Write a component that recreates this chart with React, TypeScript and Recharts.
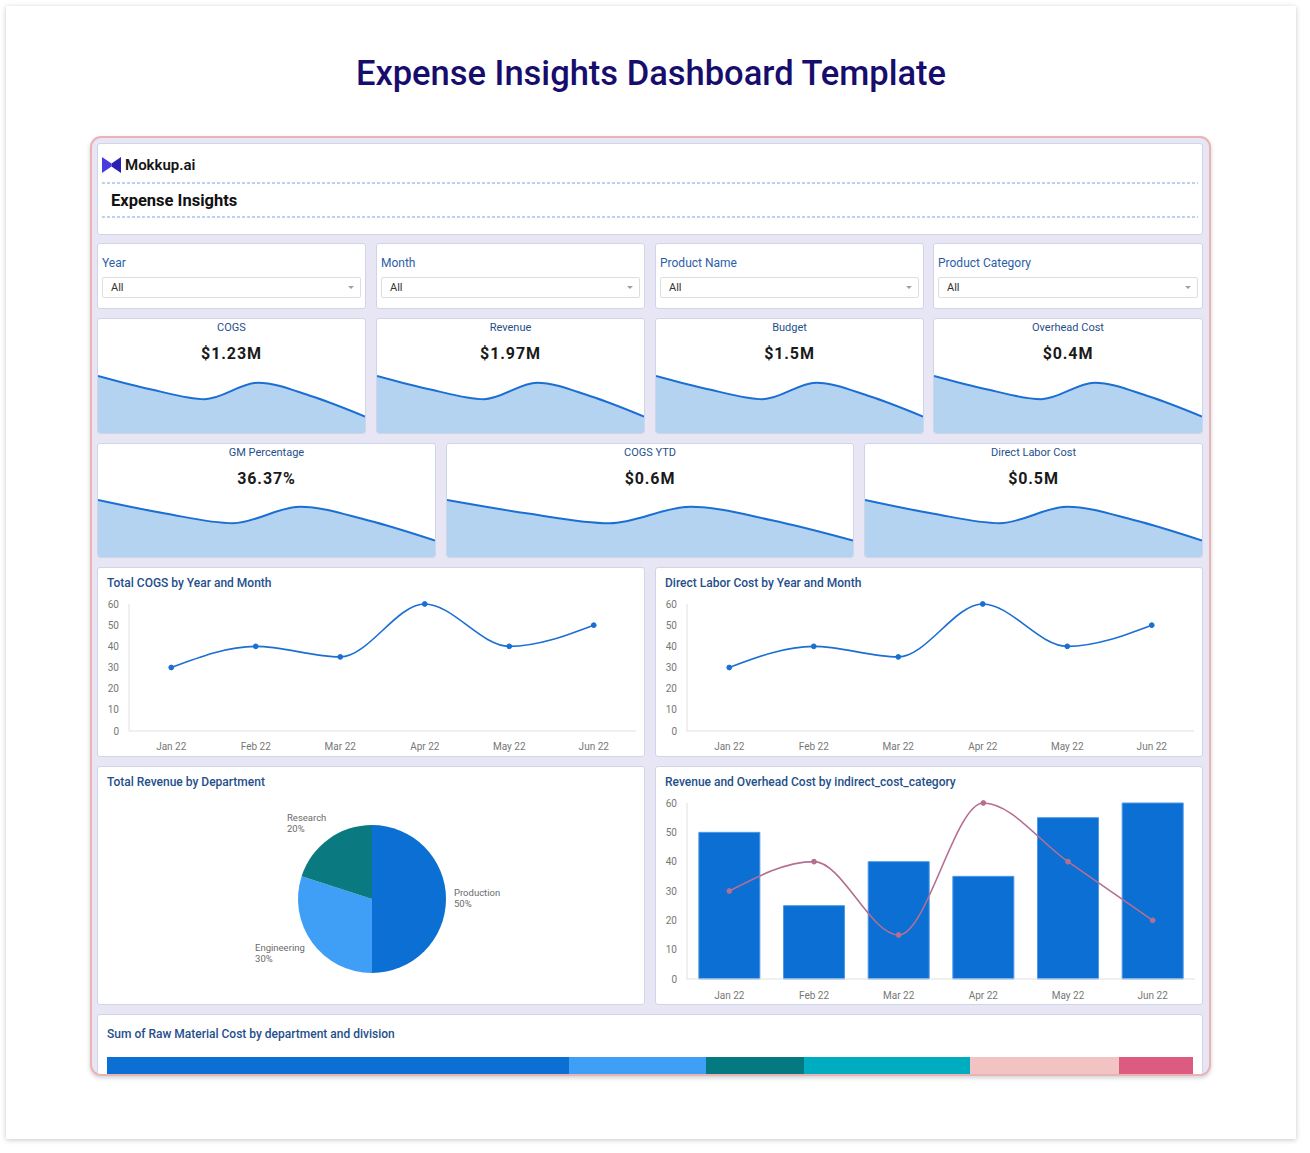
import React from 'react';
import {
  AreaChart, Area, LineChart, Line, XAxis, YAxis, PieChart, Pie, Cell,
  ComposedChart, Bar, BarChart,
} from 'recharts';

// ---- data ----
const months = ['Jan 22', 'Feb 22', 'Mar 22', 'Apr 22', 'May 22', 'Jun 22'];
const cogsByMonth = [30, 40, 35, 60, 40, 50];
const laborByMonth = [30, 40, 35, 60, 40, 50];
const revenueByMonth = [50, 25, 40, 35, 55, 60];
const overheadByMonth = [30, 40, 15, 60, 40, 20];
const yTicks = [0, 10, 20, 30, 40, 50, 60];

const departments = ['Production', 'Engineering', 'Research'];
const departmentShare = [50, 30, 20];
const departmentColors = ['#0b6fd3', '#3f9ef5', '#0a7a80'];

const sparkTrend = [59, 45, 35, 52, 38, 17];

const kpiRow1Labels = ['COGS', 'Revenue', 'Budget', 'Overhead Cost'];
const kpiRow1Values = ['$1.23M', '$1.97M', '$1.5M', '$0.4M'];
const kpiRow2Labels = ['GM Percentage', 'COGS YTD', 'Direct Labor Cost'];
const kpiRow2Values = ['36.37%', '$0.6M', '$0.5M'];

const filterLabels = ['Year', 'Month', 'Product Name', 'Product Category'];
const filterValues = ['All', 'All', 'All', 'All'];

const rawSegments = ['Production · North', 'Production · South', 'Research · North', 'Research · South', 'Engineering · North', 'Engineering · South'];
const rawValues = [462, 137, 98, 166, 149, 74];
const rawColors = ['#0b6fd3', '#3f9ef5', '#047a80', '#00adc0', '#f2c3c3', '#dd5b81'];

// ---- derived tables ----
const monthlyCogs = months.map((m, i) => ({ month: m, value: cogsByMonth[i] }));
const monthlyLabor = months.map((m, i) => ({ month: m, value: laborByMonth[i] }));
const monthlyRevOverhead = months.map((m, i) => ({ month: m, revenue: revenueByMonth[i], overhead: overheadByMonth[i] }));
const deptData = departments.map((d, i) => ({ name: d, value: departmentShare[i] }));
const sparkData = sparkTrend.map((v, i) => ({ i, v }));
const rawRow = [rawSegments.reduce((acc: any, k, i) => { acc[k] = rawValues[i]; return acc; }, { row: 'all' })];

const FONT = 'Roboto, "Noto Sans", Arial, sans-serif';
const BLUE = '#1b6fd3';
const TITLE_BLUE = '#1f4f8c';

const cardStyle: React.CSSProperties = {
  position: 'absolute', background: '#fff', border: '1px solid #cdd6e6',
  borderRadius: 3, boxSizing: 'border-box', overflow: 'hidden',
};

const Card = ({ x, y, w, h, children }: any) => (
  <div style={{ ...cardStyle, left: x, top: y, width: w, height: h }}>{children}</div>
);

const Sparkline = ({ w }: { w: number }) => (
  <div style={{ position: 'absolute', left: 0, bottom: 0 }}>
    <AreaChart width={w} height={58} data={sparkData} margin={{ top: 0, right: 0, bottom: 0, left: 0 }}>
      <XAxis dataKey="i" hide />
      <YAxis hide domain={[0, 60]} />
      <Area type="monotone" dataKey="v" stroke={BLUE} strokeWidth={2} fill="#b3d3f1" fillOpacity={1} isAnimationActive={false} />
    </AreaChart>
  </div>
);

const Kpi = ({ x, y, w, h, label, value }: any) => (
  <Card x={x - 90} y={y - 136} w={w} h={h}>
    <div style={{ position: 'absolute', top: 2, width: '100%', textAlign: 'center', fontSize: 11, color: TITLE_BLUE }}>{label}</div>
    <div style={{ position: 'absolute', top: 25, width: '100%', textAlign: 'center', fontSize: 16, fontWeight: 700, color: '#1a1a1a', letterSpacing: 0.9 }}>{value}</div>
    <Sparkline w={w - 2} />
  </Card>
);

const Filter = ({ x, w, label, value }: any) => (
  <Card x={x - 90} y={243 - 136} w={w} h={66}>
    <div style={{ position: 'absolute', left: 4, top: 12, fontSize: 12, color: '#2c5ea8' }}>{label}</div>
    <div style={{ position: 'absolute', left: 4, top: 33, width: w - 10, height: 21, border: '1px solid #dedede', borderRadius: 2, boxSizing: 'border-box' }}>
      <span style={{ position: 'absolute', left: 8, top: 3, fontSize: 11, color: '#333' }}>{value}</span>
      <svg style={{ position: 'absolute', right: 6, top: 8 }} width={6} height={4}><polygon points="0,0 6,0 3,3" fill="#a0a0a0" /></svg>
    </div>
  </Card>
);

const DashedRule = ({ top }: { top: number }) => (
  <svg style={{ position: 'absolute', left: 4, top }} width={1096} height={2}>
    <line x1={0} y1={1} x2={1096} y2={1} stroke="#6fa8e8" strokeWidth={1} strokeDasharray="3 2" />
  </svg>
);

const axisTick = { fontSize: 10, fill: '#777', fontFamily: FONT };

const MonthLine = ({ data }: any) => (
  <LineChart width={548} height={161} data={data} margin={{ top: 9, right: 8, bottom: 0, left: 0 }}>
    <XAxis dataKey="month" scale="band" height={25} tick={axisTick} tickLine={false} axisLine={{ stroke: '#e0e0e0' }} tickMargin={6} interval={0} />
    <YAxis width={33} domain={[0, 60]} ticks={yTicks} tick={axisTick} tickLine={false} axisLine={{ stroke: '#e0e0e0' }} tickMargin={4} />
    <Line type="monotone" dataKey="value" stroke={BLUE} strokeWidth={1.6}
      dot={{ r: 2.4, fill: BLUE, stroke: BLUE, strokeWidth: 1 }} isAnimationActive={false} />
  </LineChart>
);

const RAD = Math.PI / 180;
const PieLabel = (props: any) => {
  const { cx, cy, midAngle, outerRadius, name, value } = props;
  const r = outerRadius + 8;
  const c = Math.cos(-midAngle * RAD);
  const s = Math.sin(-midAngle * RAD);
  const px = cx + r * c;
  const py = cy + r * s;
  const w = Math.max(String(name).length, 3) * 4.6;
  const h = 22;
  const left = c < -0.1 ? px - w : c > 0.1 ? px : px - w / 2;
  const top = py - h / 2 + (s * h) / 2;
  return (
    <g>
      <text x={left} y={top + 8} fontSize={9.5} fill="#6b6b6b" fontFamily={FONT}>{name}</text>
      <text x={left} y={top + 19} fontSize={9.5} fill="#6b6b6b" fontFamily={FONT}>{`${value}%`}</text>
    </g>
  );
};

const ChartTitle = ({ children, top = 8 }: any) => (
  <div style={{ position: 'absolute', left: 9, top, fontSize: 12, fontWeight: 500, color: TITLE_BLUE }}>{children}</div>
);

export default function App() {
  return (
    <div style={{ position: 'absolute', left: 0, top: 0, width: 1310, height: 1153, background: '#fff', fontFamily: FONT, overflow: 'hidden' }}>
      <div style={{ position: 'absolute', left: 6, top: 6, width: 1290, height: 1133, background: '#fff', boxShadow: '0 1px 5px rgba(0,0,0,0.22)' }} />
      <div style={{ position: 'absolute', left: 0, top: 53, width: 1302, textAlign: 'center', fontSize: 34.5, fontWeight: 500, color: '#170d6c', letterSpacing: 0 }}>
        Expense Insights Dashboard Template
      </div>

      {/* dashboard frame */}
      <div style={{
        position: 'absolute', left: 90, top: 136, width: 1121, height: 940, boxSizing: 'border-box',
        border: '2px solid #e8b4b6', borderRadius: 11, background: '#e8e6f4', overflow: 'hidden',
        boxShadow: '0 2px 4px rgba(0,0,0,0.18)',
      }}>
        <div style={{ position: 'absolute', left: -2, top: -2, width: 1121, height: 940 }}>
          {/* header */}
          <Card x={7} y={7} w={1106} h={92}>
            <svg style={{ position: 'absolute', left: 4, top: 13 }} width={19} height={16}>
              <polygon points="0,0 9.5,6.5 9.5,9.5 0,16" fill="#4a3be0" />
              <polygon points="19,0 9.5,6.5 9.5,9.5 19,16" fill="#2b1fb4" />
            </svg>
            <div style={{ position: 'absolute', left: 27, top: 12, fontSize: 15, fontWeight: 600, color: '#141414' }}>Mokkup.ai</div>
            <DashedRule top={38} />
            <div style={{ position: 'absolute', left: 13, top: 47, fontSize: 16.5, fontWeight: 700, color: '#111' }}>Expense Insights</div>
            <DashedRule top={72} />
          </Card>

          {/* filters */}
          {[97, 376, 655, 933].map((x, i) => (
            <Filter key={filterLabels[i]} x={x} w={i === 3 ? 270 : 269} label={filterLabels[i]} value={filterValues[i]} />
          ))}

          {/* KPI row 1 */}
          {[97, 376, 655, 933].map((x, i) => (
            <Kpi key={kpiRow1Labels[i]} x={x} y={318} w={i === 3 ? 270 : 269} h={116} label={kpiRow1Labels[i]} value={kpiRow1Values[i]} />
          ))}

          {/* KPI row 2 */}
          {[[97, 339], [446, 408], [864, 339]].map(([x, w], i) => (
            <Kpi key={kpiRow2Labels[i]} x={x} y={443} w={w} h={115} label={kpiRow2Labels[i]} value={kpiRow2Values[i]} />
          ))}

          {/* monthly line charts */}
          <Card x={7} y={431} w={548} h={190}>
            <ChartTitle>Total COGS by Year and Month</ChartTitle>
            <div style={{ position: 'absolute', left: -2, top: 27 }}><MonthLine data={monthlyCogs} /></div>
          </Card>
          <Card x={565} y={431} w={548} h={190}>
            <ChartTitle>Direct Labor Cost by Year and Month</ChartTitle>
            <div style={{ position: 'absolute', left: -2, top: 27 }}><MonthLine data={monthlyLabor} /></div>
          </Card>

          {/* department pie */}
          <Card x={7} y={630} w={548} h={239}>
            <ChartTitle>Total Revenue by Department</ChartTitle>
            <div style={{ position: 'absolute', left: -1, top: -1 }}>
              <PieChart width={548} height={239} margin={{ top: 0, right: 0, bottom: 0, left: 0 }}>
                <Pie data={deptData} dataKey="value" nameKey="name" cx={275} cy={133} outerRadius={74}
                  startAngle={90} endAngle={-270} stroke="none" label={PieLabel} labelLine={false} isAnimationActive={false}>
                  {deptData.map((d, i) => <Cell key={d.name} fill={departmentColors[i]} />)}
                </Pie>
              </PieChart>
            </div>
          </Card>

          {/* revenue bars + overhead line */}
          <Card x={565} y={630} w={548} h={239}>
            <ChartTitle>Revenue and Overhead Cost by indirect_cost_category</ChartTitle>
            <div style={{ position: 'absolute', left: -2, top: 27 }}>
              <ComposedChart width={548} height={211} data={monthlyRevOverhead} margin={{ top: 9, right: 7, bottom: 0, left: 0 }} barCategoryGap="14%">
                <XAxis dataKey="month" height={26} tick={axisTick} tickLine={false} axisLine={{ stroke: '#e0e0e0' }} tickMargin={7} interval={0} />
                <YAxis width={33} domain={[0, 60]} ticks={yTicks} tick={axisTick} tickLine={false} axisLine={{ stroke: '#e0e0e0' }} tickMargin={4} />
                <Bar dataKey="revenue" fill="#0b6fd3" stroke="#4f98e6" strokeWidth={1} isAnimationActive={false} />
                <Line type="monotone" dataKey="overhead" stroke="#b46f92" strokeWidth={1.6}
                  dot={{ r: 2.4, fill: '#b46f92', stroke: '#b46f92', strokeWidth: 1 }} isAnimationActive={false} />
              </ComposedChart>
            </div>
          </Card>

          {/* raw material stacked bar */}
          <Card x={7} y={878} w={1106} h={90}>
            <ChartTitle top={12}>Sum of Raw Material Cost by department and division</ChartTitle>
            <div style={{ position: 'absolute', left: 9, top: 42 }}>
              <BarChart layout="vertical" width={1086} height={30} data={rawRow} margin={{ top: 0, right: 0, bottom: 0, left: 0 }} barCategoryGap={0}>
                <XAxis type="number" hide domain={[0, 'dataMax']} />
                <YAxis type="category" dataKey="row" hide />
                {rawSegments.map((k, i) => (
                  <Bar key={k} dataKey={k} stackId="raw" fill={rawColors[i]} isAnimationActive={false} />
                ))}
              </BarChart>
            </div>
          </Card>
        </div>
      </div>
    </div>
  );
}
